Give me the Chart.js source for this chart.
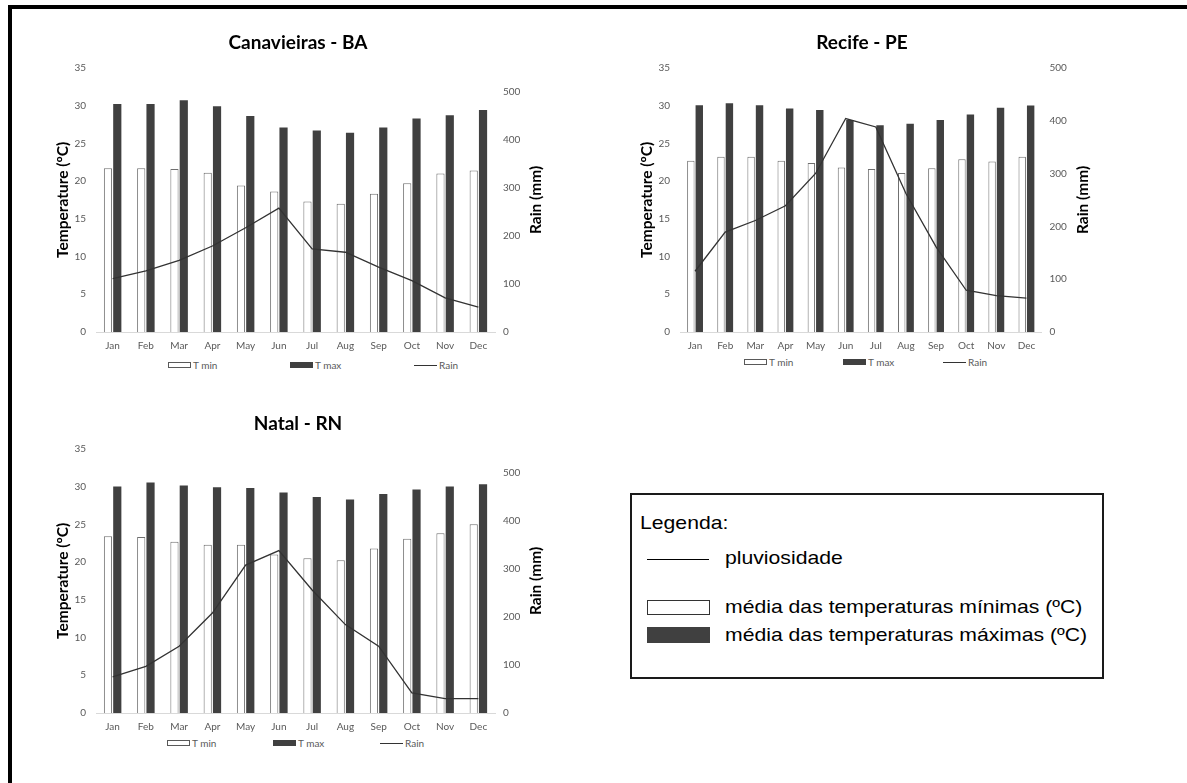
<!DOCTYPE html>
<html>
<head>
<meta charset="utf-8">
<script src="https://cdn.jsdelivr.net/npm/chart.js@4.4.1/dist/chart.umd.min.js"></script>
<style>
  body { margin: 0; background: #fff; width: 1187px; height: 783px; overflow: hidden; position: relative; font-family: Lato, sans-serif; }
  canvas { position: absolute; }
  .frame { position: absolute; left: 8px; top: 5px; width: 1200px; height: 800px; border-top: 4px solid #000; border-left: 4px solid #000; }
  .lg { position: absolute; font: 10px Lato, sans-serif; color: #595959; line-height: 12px; white-space: nowrap; }
  .sw { position: absolute; box-sizing: border-box; }
  .box { position: absolute; left: 630px; top: 493px; width: 474px; height: 186px; box-sizing: border-box; border: 2px solid #1a1a1a; }
  .bt { position: absolute; font: 19px "Liberation Sans", Arial, sans-serif; color: #000; line-height: 22px; white-space: nowrap; transform: scaleX(1.115); transform-origin: left center; }
</style>
</head>
<body>
<div class="frame"></div>
<canvas id="c1" width="516" height="335" style="left:40px;top:20px"></canvas>
<canvas id="c2" width="476" height="335" style="left:624px;top:20px"></canvas>
<canvas id="c3" width="516" height="335" style="left:40px;top:401px"></canvas>

<div class="box"></div>
<div class="bt" style="left:640px;top:512px">Legenda:</div>
<div class="sw" style="left:647px;top:559px;width:62px;height:1px;background:#000"></div>
<div class="bt" style="left:725px;top:547px">pluviosidade</div>
<div class="sw" style="left:647px;top:600px;width:63px;height:15px;border:1px solid #333;background:#fff"></div>
<div class="bt" style="left:725px;top:596px">média das temperaturas mínimas (ºC)</div>
<div class="sw" style="left:647px;top:627px;width:63px;height:16px;background:#404040"></div>
<div class="bt" style="left:725px;top:624px">média das temperaturas máximas (ºC)</div>

<script>
// dados
const meses = ['Jan', 'Feb', 'Mar', 'Apr', 'May', 'Jun', 'Jul', 'Aug', 'Sep', 'Oct', 'Nov', 'Dec'];
const series = ['T min', 'T max', 'Rain'];

const canavieirasTmin = [21.7, 21.7, 21.6, 21.1, 19.4, 18.6, 17.3, 17.0, 18.3, 19.7, 21.0, 21.4];
const canavieirasTmax = [30.2, 30.2, 30.7, 29.9, 28.6, 27.1, 26.7, 26.4, 27.1, 28.3, 28.7, 29.4];
const canavieirasRain = [111, 127, 149, 179, 217, 258, 173, 166, 135, 107, 71, 52];

const recifeTmin = [22.7, 23.2, 23.2, 22.7, 22.4, 21.8, 21.6, 21.05, 21.7, 22.9, 22.6, 23.2];
const recifeTmax = [30.05, 30.3, 30.05, 29.6, 29.4, 28.1, 27.4, 27.6, 28.1, 28.8, 29.7, 30.0];
const recifeRain = [115, 189, 211, 239, 300, 404, 388, 262, 161, 79, 69, 64];

const natalTmin = [23.4, 23.3, 22.7, 22.3, 22.3, 21.0, 20.5, 20.25, 21.8, 23.1, 23.8, 25.0];
const natalTmax = [30.0, 30.55, 30.15, 29.9, 29.8, 29.2, 28.6, 28.3, 29.0, 29.6, 30.0, 30.3];
const natalRain = [75, 97, 139, 208, 308, 338, 256, 184, 139, 42, 30, 30];

const cinza = '#595959';
const fonte = 'Lato';

// titulo do eixo da direita (lido de baixo para cima, como no original)
const tituloDireita = {
    id: 'tituloDireita',
    afterDraw(chart, args, opts) {
        const a = chart.chartArea;
        const ctx = chart.ctx;
        ctx.save();
        ctx.translate(a.right + opts.offset, (a.top + a.bottom) / 2);
        ctx.rotate(-Math.PI / 2);
        ctx.font = 'bold 15.5px ' + fonte;
        ctx.fillStyle = '#000';
        ctx.textAlign = 'center';
        ctx.textBaseline = 'middle';
        ctx.fillText(opts.text, 0, 0);
        ctx.restore();
    }
};

function grafico(id, titulo, tmin, tmax, rain, rainMax, rightW) {
    return new Chart(document.getElementById(id), {
        type: 'bar',
        data: {
            labels: meses,
            datasets: [{
                label: series[0],
                data: tmin,
                backgroundColor: '#fff',
                borderColor: '#6f6f6f',
                borderWidth: 1,
                yAxisID: 'y',
                order: 1,
                categoryPercentage: 0.56,
                barPercentage: 0.88
            }, {
                label: series[1],
                data: tmax,
                backgroundColor: '#404040',
                borderWidth: 0,
                yAxisID: 'y',
                order: 1,
                categoryPercentage: 0.56,
                barPercentage: 0.88
            }, {
                type: 'line',
                label: series[2],
                data: rain,
                borderColor: '#333',
                borderWidth: 1.3,
                pointRadius: 0,
                tension: 0,
                fill: false,
                yAxisID: 'y1',
                order: 0
            }]
        },
        options: {
            responsive: false,
            animation: false,
            layout: { padding: 0 },
            plugins: {
                legend: { display: false },
                tooltip: { enabled: false },
                title: {
                    display: true,
                    text: titulo,
                    color: '#000',
                    font: { family: fonte, size: 19, weight: 'bold' },
                    padding: { top: 11, bottom: 14 }
                },
                tituloDireita: { text: 'Rain (mm)', offset: 41 }
            },
            scales: {
                x: {
                    grid: { display: false, drawTicks: false },
                    border: { display: true, color: '#d9d9d9', width: 1 },
                    ticks: { color: cinza, font: { family: fonte, size: 10 }, padding: 8 },
                    afterFit: s => { s.height = 23; }
                },
                y: {
                    position: 'left',
                    min: 0,
                    max: 35,
                    ticks: { stepSize: 5, color: cinza, font: { family: fonte, size: 10 }, padding: 10 },
                    grid: { display: false, drawTicks: false },
                    border: { display: false },
                    title: {
                        display: true,
                        text: 'Temperature (ºC)',
                        color: '#000',
                        font: { family: fonte, size: 15.5, weight: 'bold' },
                        padding: { top: 14, bottom: 0 }
                    },
                    afterFit: s => { s.width = 56; }
                },
                y1: {
                    position: 'right',
                    min: 0,
                    max: rainMax,
                    ticks: { stepSize: 100, color: cinza, font: { family: fonte, size: 10 }, padding: 8 },
                    afterBuildTicks: s => { s.ticks = s.ticks.filter(t => t.value % 100 === 0); },
                    grid: { display: false, drawTicks: false },
                    border: { display: false },
                    afterFit: s => { s.width = rightW; }
                }
            }
        },
        plugins: [tituloDireita]
    });
}

grafico('c1', 'Canavieiras - BA', canavieirasTmin, canavieirasTmax, canavieirasRain, 550, 61);
grafico('c2', 'Recife - PE', recifeTmin, recifeTmax, recifeRain, 500, 58.5);
grafico('c3', 'Natal - RN', natalTmin, natalTmax, natalRain, 550, 61);

// legenda de cada grafico (posicoes medidas no original)
function legenda(y, xs) {
    const tipos = ['min', 'max', 'rain'];
    tipos.forEach((t, i) => {
        const sw = document.createElement('div');
        sw.className = 'sw';
        if (t === 'min') {
            sw.style.cssText = `left:${xs[i]}px;top:${y - 3}px;width:23px;height:6px;border:1px solid #595959;background:#fff`;
        } else if (t === 'max') {
            sw.style.cssText = `left:${xs[i]}px;top:${y - 3}px;width:23px;height:6px;background:#404040`;
        } else {
            sw.style.cssText = `left:${xs[i]}px;top:${y}px;width:23px;height:1px;background:#333`;
        }
        document.body.appendChild(sw);
        const tx = document.createElement('div');
        tx.className = 'lg';
        tx.style.left = (xs[i] + 25) + 'px';
        tx.style.top = (y - 6) + 'px';
        tx.textContent = series[i];
        document.body.appendChild(tx);
    });
}
legenda(365, [168, 290, 414]);
legenda(362, [744, 843, 943]);
legenda(743, [167, 273, 380]);
</script>
</body>
</html>
